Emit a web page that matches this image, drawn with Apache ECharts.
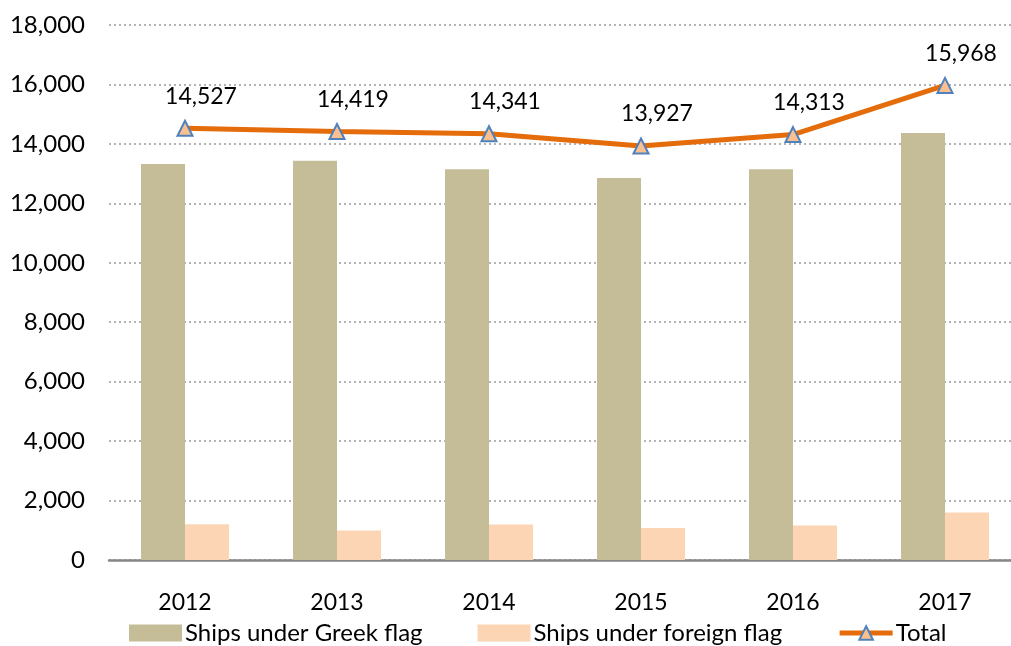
<!DOCTYPE html>
<html lang="en">
<head>
    <meta charset="utf-8" />
    <title>Ships</title>
    <script src="https://cdn.jsdelivr.net/npm/echarts@6/dist/echarts.min.js"></script>
    <style>body{margin:0;background:#fff;}</style>
</head>
<body>
<div id="main" style="width: 1011px;height:646px;"></div>
<script type="text/javascript">
    // data
    var years = ['2012', '2013', '2014', '2015', '2016', '2017'];
    var greekFlag = [13320, 13430, 13150, 12850, 13150, 14370];
    var foreignFlag = [1207, 989, 1191, 1077, 1163, 1598];
    var total = [14527, 14419, 14341, 13927, 14313, 15968];

    var fontName = 'Lato';
    var myChart = echarts.init(document.getElementById('main'), null, {renderer: 'canvas'});

    function fmt(v) {
      return v.toString().replace(/\B(?=(\d{3})+(?!\d))/g, ',');
    }

    var option = {
      backgroundColor: '#fff',
      animation: false,
      textStyle: { fontFamily: fontName },
      // plot runs past the right edge (picture is cropped there)
      grid: { left: 109, width: 912, top: 25, bottom: 86, containLabel: false, outerBoundsMode: 'none' },
      legend: {
        bottom: -4,
        left: 124,
        itemWidth: 53,
        itemHeight: 17,
        itemGap: 55,
        textStyle: { fontSize: 24, color: '#000', fontFamily: fontName, padding: [0, 0, 0, -2] },
        data: [
          { name: 'Ships under Greek flag', icon: 'rect' },
          { name: 'Ships under foreign flag', icon: 'rect' },
          { name: 'Total', lineStyle: { width: 5 } }
        ]
      },
      xAxis: {
        type: 'category',
        data: years,
        axisLine: { show: true, lineStyle: { color: '#868686', width: 2.5 } },
        axisTick: { show: false },
        axisLabel: { fontSize: 23, color: '#000', margin: 31 }
      },
      yAxis: {
        type: 'value',
        min: 0,
        max: 18000,
        interval: 2000,
        axisLine: { show: false },
        axisTick: { show: false },
        axisLabel: { fontSize: 24, color: '#000', margin: 24, formatter: fmt },
        splitLine: { lineStyle: { color: '#9a9a9a', type: [2, 3], width: 1.5 } }
      },
      series: [
        {
          name: 'Ships under Greek flag',
          type: 'bar',
          data: greekFlag,
          barWidth: 44,
          barGap: '0%',
          itemStyle: { color: '#C4BD97' }
        },
        {
          name: 'Ships under foreign flag',
          type: 'bar',
          data: foreignFlag,
          barWidth: 44,
          itemStyle: { color: '#FCD5B5' }
        },
        {
          name: 'Total',
          type: 'line',
          data: total,
          symbol: 'triangle',
          symbolSize: 15,
          lineStyle: { color: '#E46C0A', width: 5 },
          itemStyle: { color: '#FAC090', borderColor: '#4F81BD', borderWidth: 2 },
          label: {
            show: true,
            position: 'top',
            distance: 12,
            offset: [16, 0],
            fontSize: 23,
            color: '#000',
            formatter: function (p) { return fmt(p.value); }
          },
          z: 5
        }
      ]
    };
    myChart.setOption(option);
</script>
</body>
</html>
